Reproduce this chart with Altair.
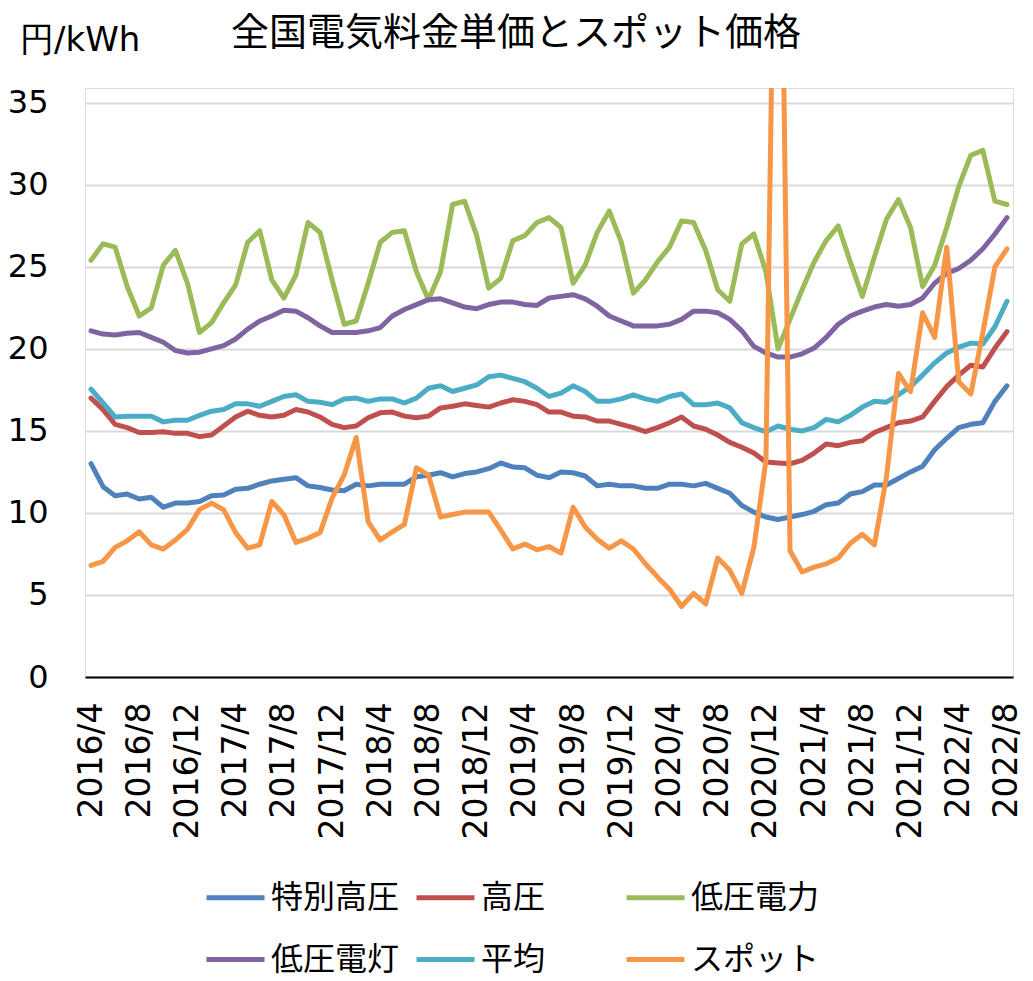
import altair as alt
import pandas as pd

# ---- categories ----
all_months = [f"{y}/{m}" for y in range(2016, 2023) for m in range(1, 13)]
months = all_months[3:3 + 77]          # 2016/4 .. 2022/8
tick_months = months[::4]

series_names = ["特別高圧", "高圧", "低圧電力", "低圧電灯", "平均", "スポット"]
series_colors = ["#4F81BD", "#C0504D", "#9BBB59", "#8064A2", "#4BACC6", "#F79646"]

title_text = ["全国電気料金単価とスポット価格"]
unit_text = ["円/kWh"]
y_ticks = [0, 5, 10, 15, 20, 25, 30, 35]

# ---- series values (円/kWh) ----
tokubetsu_koatsu = [
    13.0, 11.6, 11.05, 11.15, 10.85, 10.95, 10.35, 10.6, 10.6, 10.7, 11.05, 11.1,
    11.45, 11.5, 11.75, 11.95, 12.05, 12.15, 11.65, 11.55, 11.4, 11.35, 11.75, 11.65,
    11.75, 11.75, 11.75, 12.2, 12.3, 12.45, 12.2, 12.4, 12.5, 12.7, 13.05, 12.8,
    12.75, 12.3, 12.15, 12.5, 12.45, 12.25, 11.65, 11.75, 11.65, 11.65, 11.5, 11.5,
    11.75, 11.75, 11.65, 11.8, 11.5, 11.2, 10.45, 10.05, 9.75, 9.6, 9.75, 9.9,
    10.1, 10.5, 10.6, 11.15, 11.3, 11.7, 11.7, 12.1, 12.5, 12.85, 13.85, 14.55,
    15.2, 15.4, 15.5, 16.8, 17.75,
]
koatsu = [
    17.0, 16.3, 15.4, 15.2, 14.9, 14.9, 14.95, 14.85, 14.85, 14.65, 14.75, 15.3,
    15.85, 16.2, 15.95, 15.85, 15.95, 16.3, 16.15, 15.85, 15.4, 15.2, 15.3, 15.8,
    16.1, 16.15, 15.9, 15.8, 15.9, 16.4, 16.5, 16.65, 16.55, 16.45, 16.7, 16.9,
    16.8, 16.6, 16.15, 16.15, 15.9, 15.85, 15.6, 15.6, 15.4, 15.2, 14.95, 15.2,
    15.5, 15.85, 15.3, 15.1, 14.75, 14.3, 14.0, 13.65, 13.1, 13.05, 13.0, 13.2,
    13.65, 14.2, 14.1, 14.3, 14.4, 14.9, 15.2, 15.5, 15.6, 15.85, 16.8, 17.7,
    18.4, 19.0, 18.9, 20.05, 21.05,
]
teiatsu_denryoku = [
    25.4, 26.4, 26.2, 23.8, 22.0, 22.5, 25.1, 26.0, 24.0, 21.0, 21.6, 22.8,
    23.9, 26.5, 27.2, 24.2, 23.1, 24.5, 27.7, 27.1, 24.2, 21.5, 21.7, 24.0,
    26.5, 27.1, 27.2, 24.7, 23.0, 24.7, 28.8, 29.0, 26.9, 23.7, 24.3, 26.6,
    26.9, 27.7, 28.0, 27.4, 24.0, 25.1, 27.1, 28.4, 26.5, 23.4, 24.2, 25.3,
    26.2, 27.8, 27.7, 26.0, 23.6, 22.9, 26.4, 27.0, 24.7, 20.0, 21.8, 23.6,
    25.3, 26.6, 27.5, 25.3, 23.2, 25.6, 27.9, 29.1, 27.4, 23.8, 25.1, 27.4,
    29.9, 31.8, 32.1, 29.0, 28.8,
]
teiatsu_dento = [
    21.1, 20.9, 20.85, 20.95, 21.0, 20.7, 20.4, 19.9, 19.75, 19.8, 20.0, 20.2,
    20.6, 21.2, 21.7, 22.0, 22.35, 22.3, 21.9, 21.4, 21.0, 21.0, 21.0, 21.1,
    21.3, 22.0, 22.4, 22.7, 23.0, 23.05, 22.8, 22.55, 22.45, 22.7, 22.85, 22.85,
    22.7, 22.65, 23.1, 23.2, 23.3, 23.05, 22.6, 22.0, 21.7, 21.4, 21.4, 21.4,
    21.5, 21.8, 22.3, 22.3, 22.2, 21.8, 21.1, 20.15, 19.75, 19.5, 19.5, 19.7,
    20.05, 20.7, 21.5, 22.0, 22.3, 22.55, 22.7, 22.6, 22.7, 23.1, 24.0, 24.6,
    24.9, 25.4, 26.1, 27.0, 28.0,
]
heikin = [
    17.55, 16.7, 15.85, 15.9, 15.9, 15.9, 15.55, 15.65, 15.65, 15.95, 16.2, 16.3,
    16.65, 16.65, 16.5, 16.8, 17.1, 17.2, 16.8, 16.75, 16.6, 16.95, 17.0, 16.8,
    16.95, 16.95, 16.7, 17.0, 17.6, 17.75, 17.4, 17.6, 17.8, 18.3, 18.4, 18.2,
    18.0, 17.6, 17.1, 17.3, 17.75, 17.4, 16.8, 16.8, 16.95, 17.2, 16.95, 16.8,
    17.1, 17.25, 16.6, 16.6, 16.7, 16.4, 15.5, 15.2, 14.95, 15.3, 15.1, 15.0,
    15.2, 15.7, 15.55, 15.95, 16.45, 16.8, 16.75, 17.2, 17.7, 18.4, 19.15, 19.75,
    20.1, 20.35, 20.3, 21.35, 22.9,
]
spot = [
    6.8, 7.05, 7.9, 8.3, 8.85, 8.05, 7.8, 8.35, 9.0, 10.2, 10.6, 10.2,
    8.8, 7.85, 8.05, 10.7, 9.9, 8.2, 8.45, 8.8, 10.9, 12.3, 14.6, 9.45,
    8.35, 8.85, 9.3, 12.75, 12.3, 9.75, 9.9, 10.05, 10.05, 10.05, 8.95, 7.8,
    8.1, 7.75, 7.95, 7.55, 10.35, 9.15, 8.4, 7.85, 8.3, 7.8, 6.9, 6.1,
    5.35, 4.3, 5.1, 4.45, 7.25, 6.5, 5.1, 7.9, 13.2, 63.0, 7.7, 6.4,
    6.7, 6.9, 7.25, 8.15, 8.7, 8.05, 12.2, 18.5, 17.4, 22.2, 20.7, 26.2,
    18.0, 17.25, 21.0, 25.0, 26.1,
]

series_values = [tokubetsu_koatsu, koatsu, teiatsu_denryoku, teiatsu_dento, heikin, spot]

rows = []
for name, vals in zip(series_names, series_values):
    for m, v in zip(months, vals):
        rows.append({"series": name, "month": m, "value": v})
df = pd.DataFrame(rows)

NUM_FONT = "DejaVu Sans"
JP_FONT = "Noto Sans CJK JP"

lines = alt.Chart(df).mark_line(
    strokeWidth=5, clip=True, strokeJoin="round", strokeCap="round"
).encode(
    x=alt.X(
        "month:N",
        sort=months,
        scale=alt.Scale(type="point", padding=0.5),
        axis=alt.Axis(
            values=tick_months,
            title=None,
            labelAngle=270,
            labelFont=NUM_FONT,
            labelFontSize=33,
            labelColor="#000000",
            labelPadding=25,
            ticks=False,
            domain=True,
            domainColor="#000000",
            domainWidth=2,
            grid=False,
            labelOverlap=False,
        ),
    ),
    y=alt.Y(
        "value:Q",
        scale=alt.Scale(domain=[0, 35.9], nice=False, zero=True),
        axis=alt.Axis(
            values=y_ticks,
            title=None,
            labelFont=NUM_FONT,
            labelFontSize=32,
            labelColor="#000000",
            labelPadding=37,
            ticks=False,
            domain=False,
            grid=True,
            gridColor="#d9d9d9",
            gridWidth=2,
        ),
    ),
    color=alt.Color(
        "series:N",
        sort=series_names,
        scale=alt.Scale(domain=series_names, range=series_colors),
        legend=alt.Legend(
            title=None,
            orient="none",
            legendX=119,
            legendY=778,
            columns=3,
            direction="horizontal",
            gridAlign="all",
            columnPadding=6,
            rowPadding=14,
            symbolType="stroke",
            symbolSize=3364,
            symbolStrokeWidth=5,
            labelFont=JP_FONT,
            labelFontSize=32,
            labelColor="#000000",
            labelOffset=4,
            labelLimit=400,
        ),
    ),
)

title_mark = alt.Chart(pd.DataFrame({"t": title_text})).mark_text(
    font=JP_FONT, fontSize=38, color="#000000", align="center", baseline="alphabetic"
).encode(x=alt.value(431), y=alt.value(-43), text="t:N")

unit_mark = alt.Chart(pd.DataFrame({"t": unit_text})).mark_text(
    font="DejaVu Sans", fontSize=34, color="#000000", align="left", baseline="alphabetic"
).encode(x=alt.value(-65), y=alt.value(-37), text="t:N")

chart = alt.layer(lines, title_mark, unit_mark).properties(
    width=928,
    height=589,
    autosize=alt.AutoSizeParams(type="none"),
    padding={"left": 77, "top": 80, "right": 12, "bottom": 299},
).configure_view(stroke=None).configure(background="#ffffff")

chart.save("out.html", embed_options={"renderer": "svg", "actions": False})
